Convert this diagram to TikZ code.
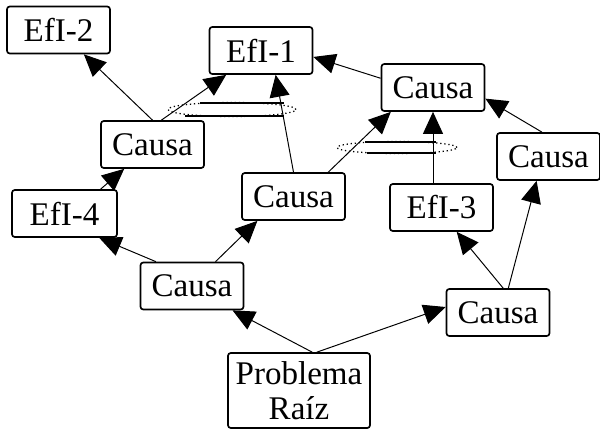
\documentclass[tikz,border=0pt]{standalone}
\usepackage{fontspec}
\setmainfont{Liberation Serif}
\usetikzlibrary{positioning, calc, shapes.geometric, arrows.meta}

\tikzset{
  box/.style={draw, rounded corners=2pt, line width=1.2pt, inner sep=0pt,
    minimum width=2.575cm, minimum height=1.175cm, align=center,
    font=\fontsize{23.5}{25}\selectfont},
  andmark/.style={draw, ellipse, dotted, line width=0.9pt, inner sep=0pt},
}

\begin{document}
\begin{tikzpicture}[x=0.025cm, y=-0.025cm, line width=0.7pt,
    >={Triangle[length=0.55cm, width=0.5cm]}]
			\useasboundingbox (0,0) rectangle (600,430);
			% effects
			\node (efi2) [box] at (58.5,30) {EfI-2};
			\node (efi1) [box] at (261,50.5) {EfI-1};
			\node (efi4) [box, minimum width=2.625cm] at (64.5,213.5) {EfI-4};
			\node (efi3) [box] at (441.5,207.5) {EfI-3};
			% causes
			\node (c1) [box] at (433,87.5) {Causa};
			\node (c2) [box] at (152.5,144.5) {Causa};
			\node (c3) [box] at (548.5,156.5) {Causa};
			\node (c4) [box] at (293.5,196.5) {Causa};
			\node (c5) [box] at (192,286) {Causa};
			\node (c6) [box] at (498,312.5) {Causa};
			\node (pr) [box, minimum width=3.55cm, minimum height=1.875cm] at (299,390.5) {Problema\\Raíz};

			\draw [->] (c2.north) -- (efi2);
			\draw [->] (c2.70) -- (efi1);
			\draw [->] (efi4.34) -- (c2);
			\draw [->] (c5.146) -- (efi4.-35);
			\draw [->] (c5.46) -- (c4.-146);
			\draw [->] (pr.71) -- (c5.-31);
			\draw [->] (pr.65) -- (c6.174);
			\draw [->] (c6.78) -- (efi3.-58);
			\draw [->] (c6.67) -- (c3.-116);
			\draw [->] (c3.105) -- (c1.-12);
			\draw [->] (c1.south |- efi3.north) -- (c1.south);
			\draw [->] (c4.35) -- (c1.-150);
			\draw [->] (c4.north) -- (efi1.-59);
			\draw [->] (c1.170) -- (efi1.-7);

			% and connectors
			\node (and1) [andmark, minimum width=3.2cm, minimum height=0.35cm] at (232,109.5) {};
			\draw [line width=1pt] ($(and1)+(-32,-6.5)$) -- ($(and1)+(52,-6.5)$);
			\draw [line width=1pt] ($(and1)+(-47,6.5)$) -- ($(and1)+(52,6.5)$);
			\node (and2) [andmark, minimum width=3cm, minimum height=0.3cm] at (397,147.5) {};
			\draw [line width=1pt] ($(and2)+(-32,-5.5)$) -- ($(and2)+(39,-5.5)$);
			\draw [line width=1pt] ($(and2)+(-30,5.5)$) -- ($(and2)+(39,5.5)$);
		\end{tikzpicture}
\end{document}
